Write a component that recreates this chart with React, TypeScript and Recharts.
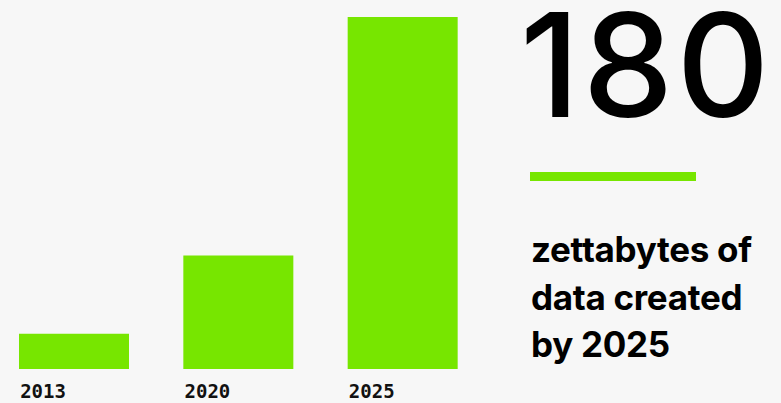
import React from 'react';
import { BarChart, Bar, XAxis, YAxis } from 'recharts';

const years = ['2013', '2020', '2025'];
const zettabytes = [18, 58, 180];
const headline = '180';
const captionLines = ['zettabytes of', 'data created', 'by 2025'];

const data = years.map((year, i) => ({ year, value: zettabytes[i] }));

const GREEN = '#77e600';
const BAR_SIZE = 110;

const YearTick = (props: any) => {
  const { x, y, payload } = props;
  return (
    <text
      x={x - BAR_SIZE / 2 + 1}
      y={y + 21}
      textAnchor="start"
      fontFamily="'DejaVu Sans Mono', monospace"
      fontWeight="bold"
      fontSize={19}
      fill="#111"
    >
      {payload.value}
    </text>
  );
};

export default function App() {
  return (
    <div style={{ position: 'relative', width: 781, height: 403, background: '#f7f7f7' }}>
      <style>{`body { margin: 0; }`}</style>
      <BarChart
        width={781}
        height={403}
        data={data}
        margin={{ top: 17, right: 296, left: -8, bottom: 0 }}
      >
        <XAxis
          dataKey="year"
          axisLine={false}
          tickLine={false}
          height={34}
          tick={<YearTick />}
          interval={0}
        />
        <YAxis hide domain={[0, 180]} />
        <Bar dataKey="value" fill={GREEN} barSize={BAR_SIZE} isAnimationActive={false} />
      </BarChart>
      <svg
        width={781}
        height={403}
        style={{ position: 'absolute', left: 0, top: 0, pointerEvents: 'none' }}
      >
        <text
          x={520}
          y={117}
          fontFamily="Inter, sans-serif"
          fontSize={144}
          fontWeight={500}
          letterSpacing={3}
          fill="#000"
        >
          {headline}
        </text>
        <rect x={530} y={172} width={166} height={9} fill={GREEN} />
        {captionLines.map((line, i) => (
          <text
            key={line}
            x={531}
            y={262 + i * 47.5}
            fontFamily="Inter, sans-serif"
            fontSize={35}
            fontWeight={700}
            letterSpacing={-0.3}
            fill="#000"
          >
            {line}
          </text>
        ))}
      </svg>
    </div>
  );
}
